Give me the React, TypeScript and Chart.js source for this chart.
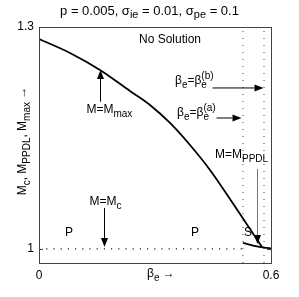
import React, { useEffect, useRef } from "react";
import { Chart, registerables } from "chart.js";

Chart.register(...registerables);

const FONT = "'Liberation Sans', Arial, Helvetica, sans-serif";

// Axes
const xTicks = [0, 0.6];
const yTicks = [1, 1.3];
const xMin = 0;
const xMax = 0.6;
const yMin = 0.981;
const yMax = 1.3;

// Main curve M = M_max (upper boundary)
const betaMax = [0, 0.0802, 0.1577, 0.2353, 0.287, 0.3388, 0.3905, 0.4422, 0.4939, 0.5457, 0.5767];
const mMax = [1.2838, 1.2649, 1.2419, 1.2135, 1.1946, 1.1703, 1.1405, 1.1068, 1.0676, 1.027, 1.0027];

// Lower short curve (M = M_PPDL)
const betaLow = [0.5275, 0.5637, 0.6];
const mLow = [1.0081, 1.0034, 1.0007];

// M = M_c dotted level
const mcBeta = [0, 0.5275];
const mcValue = [1, 1];

// Vertical boundaries beta_e^(a), beta_e^(b)
const betaA = 0.5275;
const betaB = 0.5819;

// Arrows (data units): tail -> tip
const arrowX0 = [0.1577, 0.1681, 0.4474, 0.4577, 0.5637];
const arrowY0 = [1.199, 1.0554, 1.2176, 1.177, 1.1081];
const arrowX1 = [0.1577, 0.1681, 0.5793, 0.5224, 0.5637];
const arrowY1 = [1.242, 1.0027, 1.2176, 1.177, 1.0068];
const arrowColors = ["#000", "#000", "#000", "#000", "#777"];

type Seg = { t: string; k?: "sub" | "sup"; stack?: boolean };

// Text annotations
const labelSegs: Seg[][] = [
  [{ t: "No Solution" }],
  [{ t: "M=M" }, { t: "max", k: "sub" }],
  [{ t: "M=M" }, { t: "c", k: "sub" }],
  [{ t: "β" }, { t: "e", k: "sub" }, { t: "=β" }, { t: "e", k: "sub" }, { t: "(b)", k: "sup", stack: true }],
  [{ t: "β" }, { t: "e", k: "sub" }, { t: "=β" }, { t: "e", k: "sub" }, { t: "(a)", k: "sup", stack: true }],
  [{ t: "M=M" }, { t: "PPDL", k: "sub" }],
  [{ t: "P" }],
  [{ t: "P" }],
  [{ t: "S" }],
];
const labelX = [0.3388, 0.1228, 0.1306, 0.3517, 0.3569, 0.4551, 0.0776, 0.4034, 0.5405];
const labelY = [1.2824, 1.188, 1.0635, 1.227, 1.1838, 1.127, 1.0216, 1.0216, 1.0216];
const labelAlign = ["center", "left", "left", "left", "left", "left", "center", "center", "center"];

const titleSegs: Seg[] = [
  { t: "p = 0.005, σ" },
  { t: "ie", k: "sub" },
  { t: " = 0.01, σ" },
  { t: "pe", k: "sub" },
  { t: " = 0.1" },
];
const xLabelSegs: Seg[] = [{ t: "β" }, { t: "e", k: "sub" }, { t: " →" }];
const yLabelSegs: Seg[] = [
  { t: "M" },
  { t: "c", k: "sub" },
  { t: ", M" },
  { t: "PPDL", k: "sub" },
  { t: ", M" },
  { t: "max", k: "sub" },
  { t: " →" },
];

function segFont(k: string | undefined, base: number) {
  return k ? `${Math.round(base * 0.82)}px ${FONT}` : `${base}px ${FONT}`;
}

function measureRich(ctx: CanvasRenderingContext2D, segs: Seg[], base: number) {
  let cx = 0;
  let lastStart = 0;
  for (const s of segs) {
    ctx.font = segFont(s.k, base);
    const sw = ctx.measureText(s.t).width;
    if (s.stack) {
      cx = Math.max(cx, lastStart + sw);
    } else {
      lastStart = cx;
      cx += sw;
    }
  }
  return cx;
}

function drawRich(ctx: CanvasRenderingContext2D, segs: Seg[], x: number, y: number, align: string, base = 12) {
  const w = measureRich(ctx, segs, base);
  let cx = align === "center" ? x - w / 2 : align === "right" ? x - w : x;
  let lastStart = cx;
  ctx.textBaseline = "middle";
  ctx.textAlign = "left";
  for (const s of segs) {
    ctx.font = segFont(s.k, base);
    const sw = ctx.measureText(s.t).width;
    const dy = s.k === "sub" ? base * 0.34 : s.k === "sup" ? -base * 0.42 : 0;
    let sx: number;
    if (s.stack) {
      sx = lastStart;
    } else {
      sx = cx;
      lastStart = cx;
    }
    ctx.fillText(s.t, sx, y + dy);
    cx = Math.max(cx, sx + sw);
  }
}

function drawArrow(ctx: CanvasRenderingContext2D, x0: number, y0: number, x1: number, y1: number, color: string) {
  const ang = Math.atan2(y1 - y0, x1 - x0);
  const hl = 9;
  const hw = 3.5;
  const bx = x1 - hl * Math.cos(ang);
  const by = y1 - hl * Math.sin(ang);
  ctx.strokeStyle = color;
  ctx.lineWidth = 1;
  ctx.beginPath();
  ctx.moveTo(x0, y0);
  ctx.lineTo(bx, by);
  ctx.stroke();
  ctx.fillStyle = "#000";
  ctx.beginPath();
  ctx.moveTo(x1, y1);
  ctx.lineTo(bx + hw * Math.sin(ang), by - hw * Math.cos(ang));
  ctx.lineTo(bx - hw * Math.sin(ang), by + hw * Math.cos(ang));
  ctx.closePath();
  ctx.fill();
}

const decorPlugin = {
  id: "decor",
  afterDraw(chart: any) {
    const ctx: CanvasRenderingContext2D = chart.ctx;
    const { left, right, top, bottom } = chart.chartArea;
    const xs = chart.scales.x;
    const ys = chart.scales.y;
    ctx.save();
    // box
    ctx.strokeStyle = "#444";
    ctx.lineWidth = 1;
    ctx.strokeRect(Math.round(left) + 0.5, Math.round(top) + 0.5, Math.round(right - left), Math.round(bottom - top));
    // inner ticks on y
    for (const v of yTicks) {
      const py = Math.round(ys.getPixelForValue(v)) + 0.5;
      ctx.beginPath();
      ctx.moveTo(left, py);
      ctx.lineTo(left + 4, py);
      ctx.moveTo(right, py);
      ctx.lineTo(right - 4, py);
      ctx.stroke();
    }
    // arrows
    for (let i = 0; i < arrowX0.length; i++) {
      drawArrow(
        ctx,
        Math.round(xs.getPixelForValue(arrowX0[i])) + 0.5,
        ys.getPixelForValue(arrowY0[i]),
        Math.round(xs.getPixelForValue(arrowX1[i])) + 0.5,
        ys.getPixelForValue(arrowY1[i]),
        arrowColors[i]
      );
    }
    // labels
    ctx.fillStyle = "#000";
    for (let i = 0; i < labelSegs.length; i++) {
      drawRich(ctx, labelSegs[i], xs.getPixelForValue(labelX[i]), ys.getPixelForValue(labelY[i]), labelAlign[i]);
    }
    // title
    drawRich(ctx, titleSegs, chart.width / 2, 11, "center", 13);
    // x label
    drawRich(ctx, xLabelSegs, 147, 274, "left");
    // y label
    ctx.translate(23, 141);
    ctx.rotate(-Math.PI / 2);
    drawRich(ctx, yLabelSegs, 0, 0, "center");
    ctx.restore();
  },
};

export default function App() {
  const ref = useRef<HTMLCanvasElement | null>(null);
  useEffect(() => {
    if (!ref.current) return;
    const chart = new Chart(ref.current, {
      type: "line",
      data: {
        datasets: [
          {
            data: betaMax.map((b, i) => ({ x: b, y: mMax[i] })),
            borderColor: "#000",
            borderWidth: 1.8,
            pointRadius: 0,
            cubicInterpolationMode: "monotone",
            fill: false,
          },
          {
            data: betaLow.map((b, i) => ({ x: b, y: mLow[i] })),
            borderColor: "#000",
            borderWidth: 1.8,
            pointRadius: 0,
            cubicInterpolationMode: "monotone",
            fill: false,
          },
          {
            data: mcBeta.map((b, i) => ({ x: b, y: mcValue[i] })),
            borderColor: "#222",
            borderWidth: 1.2,
            borderDash: [1.2, 6],
            pointRadius: 0,
            fill: false,
          },
          {
            data: [
              { x: betaA, y: yMin },
              { x: betaA, y: yMax },
            ],
            borderColor: "#444",
            borderWidth: 1,
            borderDash: [1, 6],
            pointRadius: 0,
            fill: false,
          },
          {
            data: [
              { x: betaB, y: yMin },
              { x: betaB, y: yMax },
            ],
            borderColor: "#444",
            borderWidth: 1,
            borderDash: [1, 6],
            pointRadius: 0,
            fill: false,
          },
        ],
      },
      options: {
        animation: false,
        responsive: false,
        devicePixelRatio: 1,
        layout: { padding: { left: 8, right: 28, top: 27, bottom: 12 } },
        plugins: { legend: { display: false }, tooltip: { enabled: false }, title: { display: false } },
        scales: {
          x: {
            type: "linear",
            min: xMin,
            max: xMax,
            grid: { display: false, drawTicks: false },
            border: { display: false },
            afterBuildTicks: (s: any) => {
              s.ticks = xTicks.map((v) => ({ value: v }));
            },
            afterFit: (s: any) => {
              s.height = 22;
            },
            ticks: {
              color: "#000",
              padding: 5,
              maxRotation: 0,
              autoSkip: false,
              font: { family: FONT, size: 12 },
              callback: (v: any) => String(v),
            },
          },
          y: {
            type: "linear",
            min: yMin,
            max: yMax,
            grid: { display: false, drawTicks: false },
            border: { display: false },
            afterBuildTicks: (s: any) => {
              s.ticks = yTicks.map((v) => ({ value: v }));
            },
            afterFit: (s: any) => {
              s.width = 31;
            },
            ticks: {
              color: "#000",
              padding: 5,
              autoSkip: false,
              font: { family: FONT, size: 12 },
              callback: (v: any) => String(v),
            },
          },
        },
      } as any,
      plugins: [decorPlugin],
    });
    return () => chart.destroy();
  }, []);
  return (
    <div style={{ position: "absolute", left: 0, top: 0, width: 299, height: 297, background: "#fff" }}>
      <canvas ref={ref} width={299} height={297} style={{ width: 299, height: 297, display: "block" }} />
    </div>
  );
}
